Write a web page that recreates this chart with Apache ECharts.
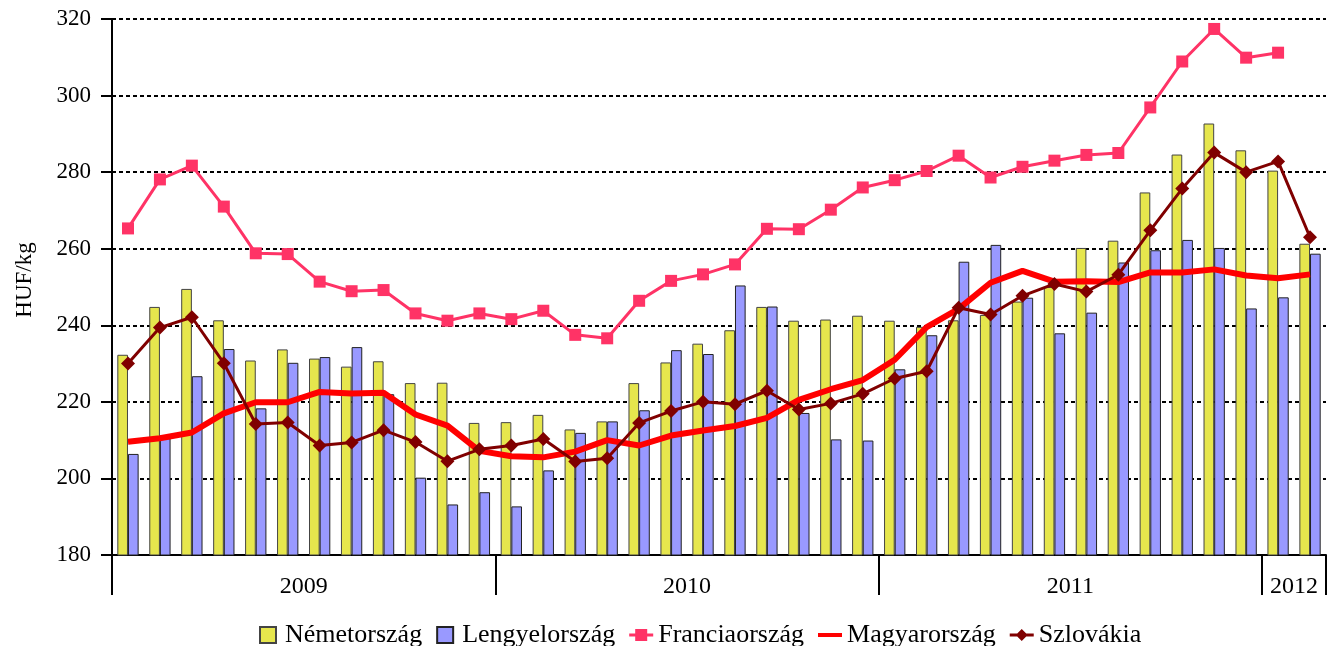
<!DOCTYPE html>
<html>
<head>
<meta charset="utf-8">
<script src="https://cdn.jsdelivr.net/npm/echarts@6/dist/echarts.min.js"></script>
<style>
  html, body { margin: 0; padding: 0; background: #fff; }
  #chart { width: 1335px; height: 646px; }
</style>
</head>
<body>
<div id="chart"></div>
<script>
const months = [
  '2009.01','2009.02','2009.03','2009.04','2009.05','2009.06','2009.07','2009.08','2009.09','2009.10','2009.11','2009.12',
  '2010.01','2010.02','2010.03','2010.04','2010.05','2010.06','2010.07','2010.08','2010.09','2010.10','2010.11','2010.12',
  '2011.01','2011.02','2011.03','2011.04','2011.05','2011.06','2011.07','2011.08','2011.09','2011.10','2011.11','2011.12',
  '2012.01','2012.02'
];
const years = ['2009', '2010', '2011', '2012'];
const monthsPerYear = [12, 12, 12, 2];
const yTicks = [180, 320, 20]; // min, max, step

const nemetorszag = [
  232.3, 244.8, 249.5, 241.3, 230.8, 233.7, 231.3, 229.2, 230.6, 224.9, 225.0, 214.5,
  214.7, 216.6, 212.8, 214.9, 224.9, 230.3, 235.2, 238.7, 244.8, 241.2, 241.5, 242.5,
  241.2, 239.6, 241.3, 242.7, 246.2, 250.0, 260.2, 262.1, 274.7, 284.6, 292.7, 285.7,
  280.4, 261.3
];
const lengyelorszag = [
  206.4, 210.5, 226.7, 233.8, 218.3, 230.2, 231.7, 234.3, 222.0, 200.2, 193.2, 196.4,
  192.7, 202.1, 211.9, 214.9, 217.8, 233.5, 232.5, 250.4, 244.9, 217.1, 210.2, 209.9,
  228.5, 237.4, 256.6, 261.0, 247.2, 237.9, 243.3, 256.4, 259.6, 262.3, 260.2, 244.4,
  247.3, 258.7
];
const franciaorszag = [
  265.3, 278.1, 281.7, 271.0, 258.8, 258.6, 251.4, 248.9, 249.2, 243.1, 241.2, 243.1,
  241.6, 243.8, 237.5, 236.6, 246.4, 251.6, 253.3, 255.9, 265.2, 265.1, 270.2, 276.0,
  277.9, 280.3, 284.3, 278.6, 281.4, 283.0, 284.5, 285.0, 296.9, 308.9, 317.4, 309.9,
  311.2, null
];
const magyarorszag = [
  209.6, 210.5, 212.0, 217.0, 219.9, 219.9, 222.6, 222.2, 222.4, 216.7, 213.8, 207.2,
  205.8, 205.5, 207.0, 210.0, 208.6, 211.2, 212.5, 213.7, 215.8, 220.5, 223.3, 225.7,
  231.0, 239.5, 244.3, 251.1, 254.2, 251.4, 251.5, 251.3, 253.8, 253.8, 254.6, 253.0,
  252.3, 253.3
];
const szlovakia = [
  230.0, 239.4, 242.1, 230.1, 214.2, 214.6, 208.6, 209.4, 212.6, 209.5, 204.5, 207.6,
  208.6, 210.3, 204.4, 205.3, 214.5, 217.6, 220.0, 219.4, 222.9, 218.0, 219.6, 222.1,
  226.1, 228.0, 244.6, 242.8, 247.7, 250.8, 248.8, 253.2, 264.8, 275.7, 285.1, 280.0,
  282.8, 263.0
];

const font = '"Liberation Serif", "Times New Roman", serif';

// year boundaries and centres on a 0..months.length scale
const yearEdges = [0];
const yearMids = [];
const yearAt = {};
monthsPerYear.forEach((n, i) => {
  const start = yearEdges[yearEdges.length - 1];
  yearEdges.push(start + n);
  yearMids.push(start + n / 2);
  yearAt[start + n / 2] = years[i];
});

// legend icons (drawn in a 24x16 box)
const squareIcon = 'path://M0,0H10V10H0Z';
const lineSquareIcon = 'path://M0,6.5H6V2H18V6.5H24V9.5H18V14H6V9.5H0Z';
const lineIcon = 'path://M0,0H24V4H0Z';
const lineDiamondIcon = 'path://M0,6.5H7.5L12,2L16.5,6.5H24V9.5H16.5L12,14L7.5,9.5H0Z';

const chart = echarts.init(document.getElementById('chart'));

const option = {
  animation: false,
  textStyle: { fontFamily: font, color: '#000' },
  grid: { left: 112, right: 9, top: 19, bottom: 91, containLabel: false },
  legend: {
    left: 254,
    top: 617,
    itemWidth: 24,
    itemHeight: 16,
    itemGap: 14,
    textStyle: { fontFamily: font, fontSize: 26, color: '#000' },
    data: [
      { name: 'Németország', icon: squareIcon },
      { name: 'Lengyelország', icon: squareIcon },
      { name: 'Franciaország', icon: lineSquareIcon },
      { name: 'Magyarország', icon: lineIcon },
      { name: 'Szlovákia', icon: lineDiamondIcon }
    ]
  },
  xAxis: [
    {
      type: 'category',
      data: months,
      boundaryGap: true,
      axisLine: { lineStyle: { color: '#000', width: 2 } },
      axisTick: { interval: 0, length: 10, lineStyle: { color: '#000', width: 2 } },
      axisLabel: { show: false },
      splitLine: { show: false }
    },
    {
      type: 'value',
      min: 0,
      max: months.length,
      position: 'bottom',
      axisLine: { show: false },
      splitLine: { show: false },
      axisTick: {
        show: true,
        customValues: yearEdges,
        length: 40,
        lineStyle: { color: '#000', width: 2 }
      },
      axisLabel: {
        customValues: yearMids,
        formatter: (v) => yearAt[v] || '',
        margin: 20,
        fontSize: 24,
        fontFamily: font,
        color: '#000'
      }
    }
  ],
  yAxis: {
    type: 'value',
    min: yTicks[0],
    max: yTicks[1],
    interval: yTicks[2],
    name: 'HUF/kg',
    nameLocation: 'middle',
    nameGap: 76,
    nameTextStyle: { fontFamily: font, fontSize: 23, color: '#000', padding: [0, 0, 0, 14] },
    axisLine: { show: true, lineStyle: { color: '#000', width: 2 } },
    axisTick: { show: true, length: 11, lineStyle: { color: '#000', width: 2 } },
    axisLabel: { margin: 21, fontSize: 23, fontFamily: font, color: '#000' },
    splitLine: { show: true, lineStyle: { color: '#000', width: 2, type: [4, 3] } }
  },
  series: [
    {
      name: 'Németország',
      type: 'bar',
      data: nemetorszag,
      barGap: '0%',
      barCategoryGap: '33.3%',
      itemStyle: { color: '#E6E64D', borderColor: '#444', borderWidth: 1 }
    },
    {
      name: 'Lengyelország',
      type: 'bar',
      data: lengyelorszag,
      barGap: '0%',
      barCategoryGap: '33.3%',
      itemStyle: { color: '#9999FF', borderColor: '#222', borderWidth: 1 }
    },
    {
      name: 'Franciaország',
      type: 'line',
      data: franciaorszag,
      symbol: 'rect',
      symbolSize: 12,
      lineStyle: { color: '#FF3366', width: 3 },
      itemStyle: { color: '#FF3366' }
    },
    {
      name: 'Magyarország',
      type: 'line',
      data: magyarorszag,
      symbol: 'none',
      lineStyle: { color: '#FF0000', width: 6 },
      itemStyle: { color: '#FF0000' }
    },
    {
      name: 'Szlovákia',
      type: 'line',
      data: szlovakia,
      symbol: 'diamond',
      symbolSize: 14,
      lineStyle: { color: '#800000', width: 3 },
      itemStyle: { color: '#800000' }
    }
  ]
};

chart.setOption(option);
</script>
</body>
</html>
